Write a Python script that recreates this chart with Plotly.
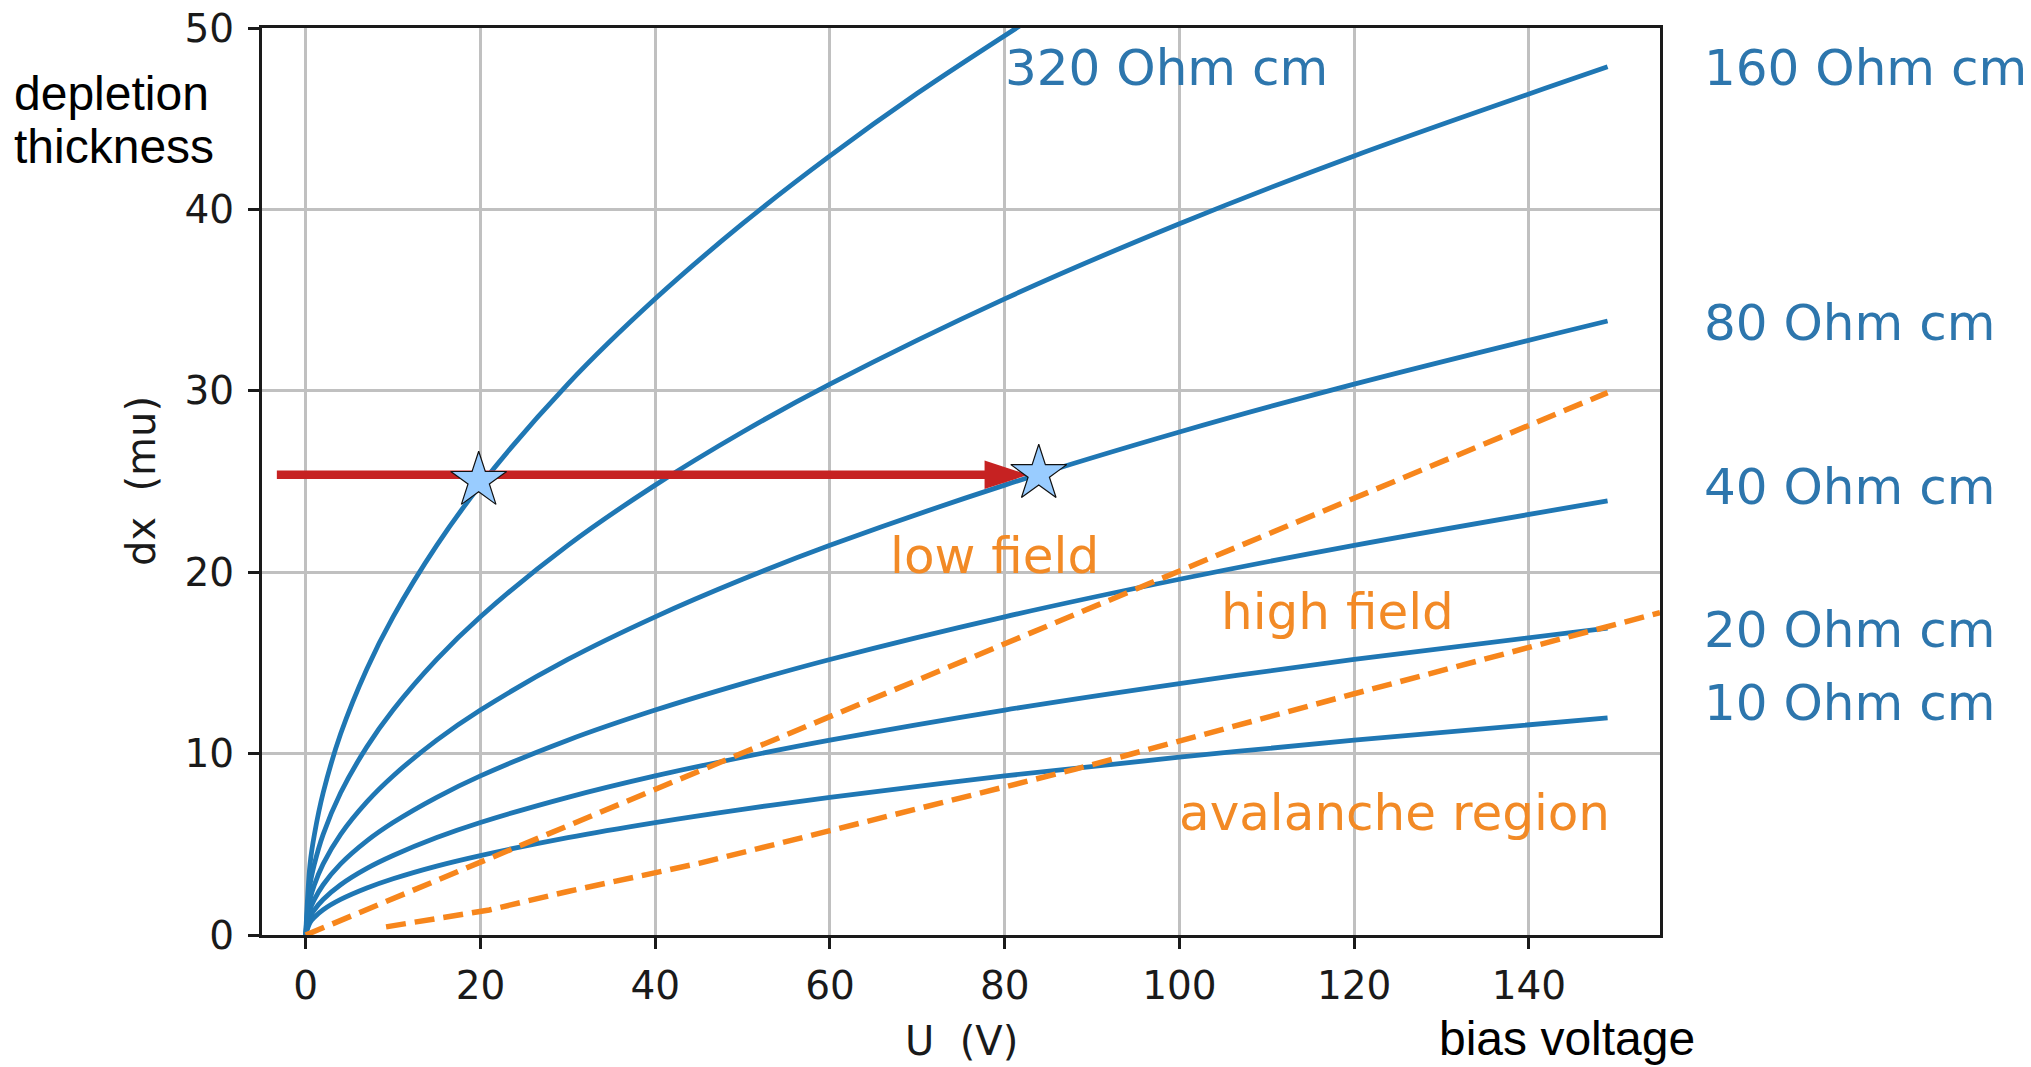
import plotly.graph_objects as go

# Depletion thickness dx (mu) versus bias voltage U (V), one curve per resistivity
U_CURVE = [0, 0.5, 1, 2, 4, 7, 10, 15, 20, 30, 40, 50, 60, 80, 100, 120, 149]
DX_10 = [0, 0.69, 0.98, 1.39, 1.96, 2.59, 3.10, 3.80, 4.38, 5.37, 6.20, 6.93, 7.59, 8.77, 9.80, 10.74, 11.97]
DX_20 = [0, 0.98, 1.39, 1.96, 2.77, 3.67, 4.38, 5.37, 6.20, 7.59, 8.77, 9.80, 10.74, 12.40, 13.86, 15.19, 16.92]
DX_40 = [0, 1.39, 1.96, 2.77, 3.92, 5.19, 6.20, 7.59, 8.77, 10.74, 12.40, 13.86, 15.19, 17.54, 19.61, 21.48, 23.93]
DX_80 = [0, 1.96, 2.77, 3.92, 5.55, 7.34, 8.77, 10.74, 12.40, 15.19, 17.54, 19.61, 21.48, 24.80, 27.73, 30.37, 33.85]
DX_160 = [0, 2.77, 3.92, 5.55, 7.84, 10.37, 12.40, 15.19, 17.54, 21.48, 24.80, 27.73, 30.37, 35.07, 39.21, 42.95, 47.86]
U_320 = [0, 0.5, 1, 2, 4, 7, 10, 15, 20, 30, 40, 50, 60, 70, 82]
DX_320 = [0, 3.92, 5.55, 7.84, 11.09, 14.67, 17.54, 21.48, 24.80, 30.37, 35.07, 39.21, 42.95, 46.40, 50.20]

# Field boundaries (dashed)
U_LOW_HIGH = [0, 149]
DX_LOW_HIGH = [0, 29.9]
U_AVALANCHE = [9.2, 15, 21, 30, 45, 60, 88, 120, 155]
DX_AVALANCHE = [0.45, 0.9, 1.38, 2.4, 3.95, 5.75, 9.13, 13.3, 17.77]

# Same thickness reached at two resistivities
ARROW_U = [-3.3, 82.7]
ARROW_DX = 25.37
STAR_U = [19.8, 83.9]
STAR_DX = [25.05, 25.43]

# Labels: (text, U, dx)
RES_LABELS = [
    ("320 Ohm cm", 79.9, 47.8),
    ("160 Ohm cm", 159.9, 47.8),
    ("80 Ohm cm", 159.9, 33.75),
    ("40 Ohm cm", 159.9, 24.7),
    ("20 Ohm cm", 159.9, 16.8),
    ("10 Ohm cm", 159.9, 12.8),
]
REGION_LABELS = [
    ("low field", 66.8, 20.88),
    ("high field", 104.6, 17.83),
    ("avalanche region", 99.8, 6.71),
]

X_RANGE = [-5, 155]
Y_RANGE = [0, 50]
X_TICKS = [0, 20, 40, 60, 80, 100, 120, 140]
Y_TICKS = [0, 10, 20, 30, 40, 50]

BLUE = "#1f77b4"
ORANGE = "#f7861c"
RED = "#c62222"
MPL_FONT = "DejaVu Sans"
NOTE_FONT = "Liberation Sans"

fig = go.Figure()

for u, dx in [(U_CURVE, DX_10), (U_CURVE, DX_20), (U_CURVE, DX_40),
              (U_CURVE, DX_80), (U_CURVE, DX_160), (U_320, DX_320)]:
    fig.add_trace(go.Scatter(x=u, y=dx, mode="lines",
                             line=dict(color=BLUE, width=4.8, shape="spline", smoothing=1.0),
                             hoverinfo="skip"))

for u, dx in [(U_LOW_HIGH, DX_LOW_HIGH), (U_AVALANCHE, DX_AVALANCHE)]:
    fig.add_trace(go.Scatter(x=u, y=dx, mode="lines",
                             line=dict(color=ORANGE, width=5.5, dash="20px,9px"),
                             hoverinfo="skip"))

# red arrow: shaft and head
head_len = 4.9  # in U units
fig.add_trace(go.Scatter(x=[ARROW_U[0], ARROW_U[1] - head_len], y=[ARROW_DX, ARROW_DX],
                         mode="lines", line=dict(color=RED, width=8.5), hoverinfo="skip"))
fig.add_trace(go.Scatter(x=[ARROW_U[1]], y=[ARROW_DX], mode="markers",
                         marker=dict(symbol="arrow", angle=90, size=46, color=RED,
                                     line=dict(width=0)),
                         hoverinfo="skip"))

fig.add_trace(go.Scatter(x=STAR_U, y=STAR_DX, mode="markers",
                         marker=dict(symbol="star", size=42, color="#99ccff",
                                     line=dict(color="#111111", width=1.2)),
                         hoverinfo="skip"))

def u_to_paper(u):
    return (u - X_RANGE[0]) / (X_RANGE[1] - X_RANGE[0])

annotations = []
for text, u, dx in RES_LABELS:
    inside = X_RANGE[0] <= u <= X_RANGE[1]
    annotations.append(dict(text=text, x=u if inside else u_to_paper(u),
                            xref="x" if inside else "paper", y=dx, yref="y",
                            xanchor="left", yanchor="middle", showarrow=False, borderpad=0,
                            font=dict(family=MPL_FONT, size=50, color="#2d76ad")))
for text, u, dx in REGION_LABELS:
    annotations.append(dict(text=text, x=u, xref="x", y=dx, yref="y",
                            xanchor="left", yanchor="middle", showarrow=False, borderpad=0,
                            font=dict(family=MPL_FONT, size=50, color="#f28a26")))

# axis titles
annotations.append(dict(text="U  (V)", x=75, xref="x", y=-0.1171, yref="paper",
                        xanchor="center", yanchor="middle", showarrow=False, borderpad=0,
                        font=dict(family=MPL_FONT, size=40, color="#1a1a1a")))
annotations.append(dict(text="dx  (mu)", x=-0.0869, xref="paper", y=25, yref="y",
                        xanchor="center", yanchor="middle", textangle=-90, showarrow=False,
                        borderpad=0, font=dict(family=MPL_FONT, size=40, color="#1a1a1a")))

# plain-language notes
for text, x, y in [("depletion", -0.1781, 0.9276), ("thickness", -0.1781, 0.8688),
                   ("bias voltage", 0.8411, -0.114)]:
    annotations.append(dict(text=text, x=x, xref="paper", y=y, yref="paper",
                            xanchor="left", yanchor="middle", showarrow=False, borderpad=0,
                            font=dict(family=NOTE_FONT, size=48, color="#000000")))

axis_common = dict(showgrid=True, gridcolor="#c0c0c0", gridwidth=2.6,
                   zeroline=False, showline=True, linecolor="#1a1a1a", linewidth=3,
                   mirror=True, ticks="outside", ticklen=11, tickwidth=2.6,
                   tickcolor="#1a1a1a",
                   tickfont=dict(family=MPL_FONT, size=39, color="#1a1a1a"))

fig.update_layout(
    width=2031, height=1067,
    margin=dict(l=262, r=371, t=28, b=132, autoexpand=False),
    paper_bgcolor="white", plot_bgcolor="white",
    showlegend=False,
    xaxis=dict(range=X_RANGE, tickvals=X_TICKS, ticklabelstandoff=3, **axis_common),
    yaxis=dict(range=Y_RANGE, tickvals=Y_TICKS, ticklabelstandoff=6, **axis_common),
    annotations=annotations,
)

fig.write_html("out.html", config={"displayModeBar": False})
